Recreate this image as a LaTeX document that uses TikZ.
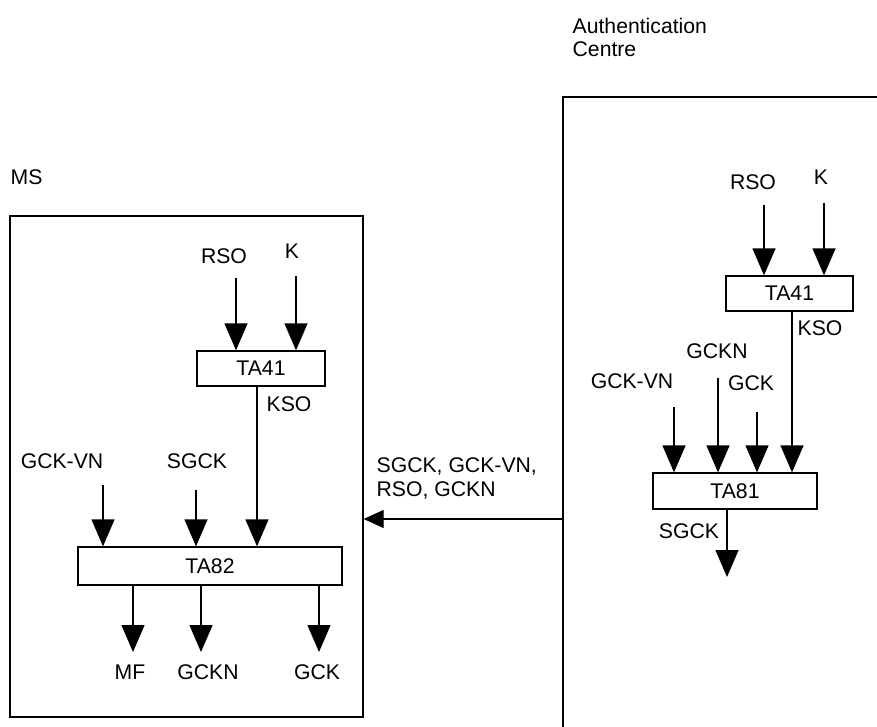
\documentclass[tikz,border=0pt]{standalone}
\usepackage{fontspec}
\setmainfont{Liberation Sans}
\usetikzlibrary{arrows.meta,positioning}

\begin{document}
\begin{tikzpicture}[x=1pt, y=-1pt, font=\fontsize{21.2}{23.5}\selectfont, line width=1.3pt]
  \tikzset{
    fn box/.style={draw, inner sep=0pt, minimum height=35pt},
    sig/.style={-{Triangle[length=27pt,width=23pt]}},
    msg/.style={-{Triangle[length=20pt,width=18pt]}},
    lbl/.style={inner sep=0pt},
  }
  \useasboundingbox (0,0) rectangle (877,727);

  % mobile station
  \node[lbl, anchor=west] (mslbl) at (10,177) {MS};
  \node[draw, inner sep=0pt, minimum width=353pt, minimum height=501pt] (ms) at (186.5,466.5) {};
  \node[fn box, minimum width=128pt] (msta41) at (261,368.5) {TA41};
  \node[fn box, minimum width=264pt, minimum height=38pt] (ta82) at (210,566) {TA82};

  \node[lbl] (msrso) at (224,256) {RSO};
  \node[lbl] (msk) at (292,251) {K};
  \coordinate (msrsoin) at (236,278);
  \coordinate (mskin) at (296,276);
  \draw[sig] (msrsoin) -- (msrsoin |- msta41.north);
  \draw[sig] (mskin) -- (mskin |- msta41.north);

  \node[lbl] (msgckvn) at (62,461) {GCK-VN};
  \node[lbl] (mssgck) at (197,461) {SGCK};
  \coordinate (msgckvnin) at (103,485);
  \coordinate (mssgckin) at (196,490);
  \draw[sig] (msgckvnin) -- (msgckvnin |- ta82.north);
  \draw[sig] (mssgckin) -- (mssgckin |- ta82.north);
  \draw[sig] ([xshift=-4pt]msta41.south) -- ([xshift=-4pt]msta41.south |- ta82.north);
  \node[lbl] (mskso) at (289,404) {KSO};

  \coordinate (mfout) at (133,652);
  \coordinate (gcknout) at (201,652);
  \coordinate (gckout) at (319,652);
  \draw[sig] (mfout |- ta82.south) -- (mfout);
  \draw[sig] (gcknout |- ta82.south) -- (gcknout);
  \draw[sig] (gckout |- ta82.south) -- (gckout);
  \node[lbl] (mf) at (130,672) {MF};
  \node[lbl] (gckn) at (208,672) {GCKN};
  \node[lbl] (gck) at (317,672) {GCK};

  % authentication centre
  \node[lbl, align=left, anchor=north west] (aulbl) at (572,17) {Authentication\\Centre};
  \draw (563,727) -- (563,97) -- (877,97);
  \node[fn box, minimum width=127pt] (auta41) at (789.5,293.5) {TA41};
  \node[fn box, minimum width=164pt, minimum height=36pt] (ta81) at (735,491) {TA81};

  \node[lbl] (aurso) at (753,182) {RSO};
  \node[lbl] (auk) at (821,177) {K};
  \coordinate (aursoin) at (764,205);
  \coordinate (aukin) at (824,203);
  \draw[sig] (aursoin) -- (aursoin |- auta41.north);
  \draw[sig] (aukin) -- (aukin |- auta41.north);
  \draw[sig] ([xshift=2.5pt]auta41.south) -- ([xshift=2.5pt]auta41.south |- ta81.north);
  \node[lbl, anchor=west] (aukso) at (797,328) {KSO};

  \node[lbl] (augckn) at (717,351) {GCKN};
  \node[lbl] (augckvn) at (632,381) {GCK-VN};
  \node[lbl] (augck) at (751,383) {GCK};
  \coordinate (augckvnin) at (674,407);
  \coordinate (augcknin) at (718,378);
  \coordinate (augckin) at (757,412);
  \draw[sig] (augckvnin) -- (augckvnin |- ta81.north);
  \draw[sig] (augcknin) -- (augcknin |- ta81.north);
  \draw[sig] (augckin) -- (augckin |- ta81.north);

  \coordinate (sgckout) at (727,577);
  \draw[sig] (sgckout |- ta81.south) -- (sgckout);
  \node[lbl] (ausgck) at (689,531) {SGCK};

  % message to the MS
  \coordinate (aumsg) at (563,519);
  \draw[msg] (aumsg) -- (aumsg -| ms.east);
  \node[lbl, align=left, anchor=west] (msglbl) at (376,478.5) {SGCK, GCK-VN,\\RSO, GCKN};
\end{tikzpicture}
\end{document}
